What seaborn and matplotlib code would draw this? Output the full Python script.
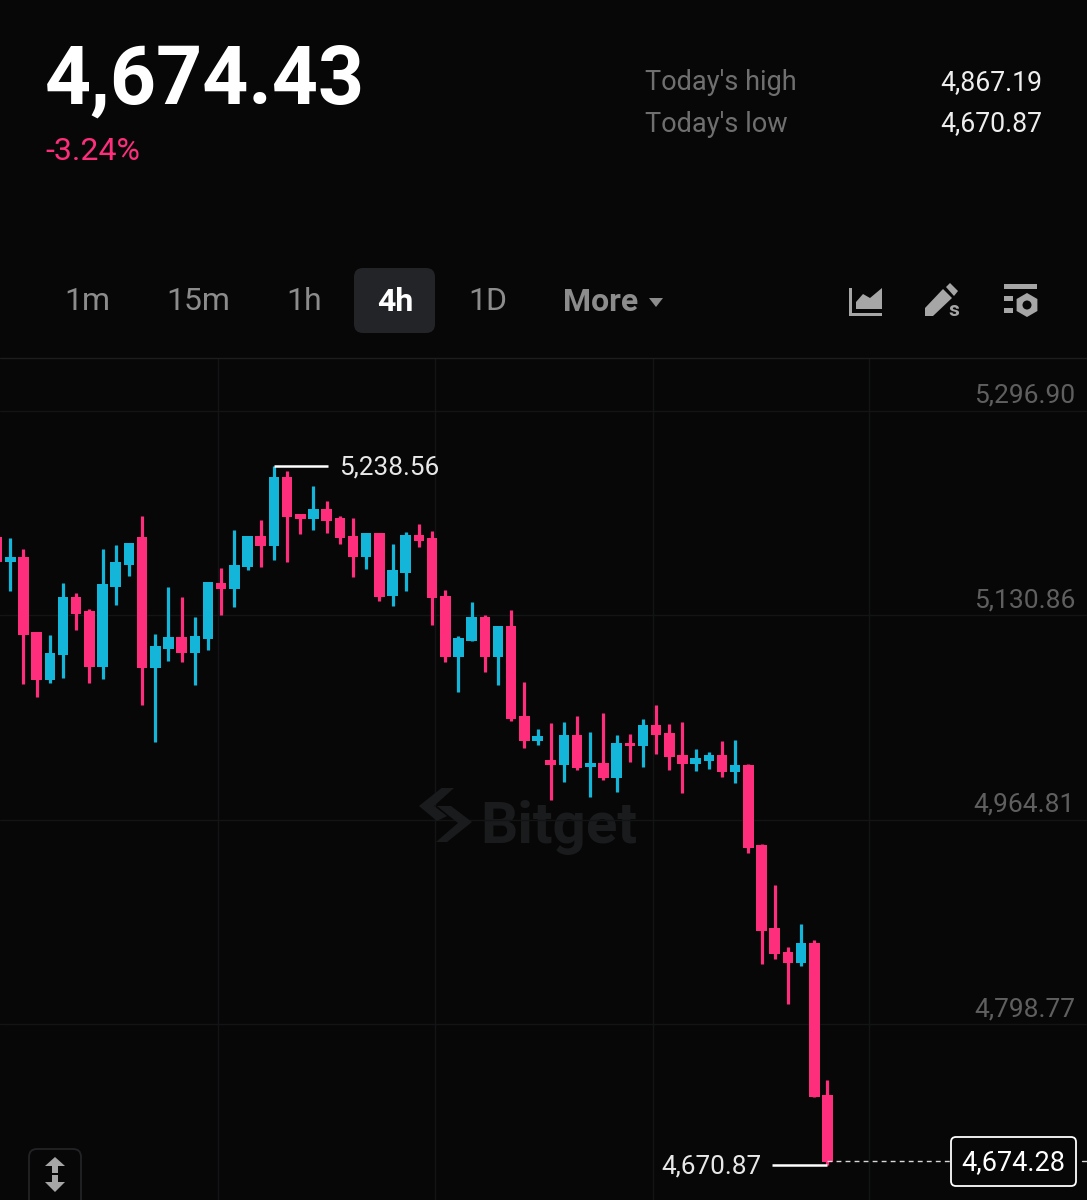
import matplotlib
matplotlib.use("Agg")
import matplotlib.pyplot as plt
import pandas as pd
import seaborn as sns
from matplotlib.patches import Circle, FancyBboxPatch, Polygon, Rectangle, RegularPolygon

BG = "#070707"
PINK = "#fe2e7c"
CYAN = "#13b5d9"
GREY = "#a6a6a6"
MARK = "#1a1b1d"

opens = [5181.1, 5160.8, 5164.8, 5103.7, 5064.7, 5085.0, 5131.8, 5120.4, 5075.5, 5140.4, 5158.3, 5180.8, 5074.4,
         5089.9, 5099.6, 5086.6, 5098.0, 5143.4, 5138.3, 5156.2, 5181.6, 5173.8, 5229.2, 5199.2, 5195.7, 5203.8,
         5196.5, 5181.9, 5164.8, 5183.8, 5132.9, 5151.8, 5182.7, 5179.7, 5132.9, 5083.1, 5096.6, 5116.1, 5083.6,
         5108.5, 5035.4, 5014.9, 4999.4, 4995.9, 5020.0, 4993.8, 4997.5, 4985.4, 5013.8, 5011.4, 5028.1, 5021.9,
         5003.8, 4996.2, 4998.9, 5003.5, 4989.7, 4995.6, 4931.0, 4863.0, 4843.6, 4835.2, 4851.4, 4727.7]
closes = [5160.8, 5164.8, 5101.2, 5064.7, 5086.9, 5131.8, 5118.0, 5075.5, 5142.4, 5160.5, 5175.7, 5074.4, 5092.3,
          5099.6, 5086.6, 5100.4, 5144.0, 5138.3, 5158.1, 5181.6, 5173.8, 5229.2, 5197.3, 5195.7, 5203.8, 5194.0,
          5179.7, 5164.8, 5183.8, 5132.3, 5153.7, 5182.7, 5177.5, 5131.0, 5083.1, 5098.5, 5116.1, 5083.6, 5108.3,
          5032.7, 5014.9, 5019.2, 4995.9, 5020.0, 4993.5, 4997.5, 4985.1, 5013.8, 5011.1, 5028.1, 5019.8, 5001.9,
          4996.2, 5001.1, 5003.5, 4989.7, 4995.6, 4928.5, 4861.2, 4841.9, 4835.2, 4851.1, 4725.8, 4673.2]
highs = [5181.1, 5180.2, 5171.0, 5103.7, 5101.2, 5143.2, 5135.6, 5122.6, 5171.0, 5174.0, 5175.7, 5197.8, 5101.8,
         5139.9, 5132.1, 5115.6, 5144.0, 5155.6, 5186.5, 5181.6, 5194.6, 5238.56, 5234.6, 5199.2, 5222.5, 5210.3,
         5197.8, 5195.9, 5183.8, 5183.8, 5174.8, 5184.6, 5191.1, 5185.7, 5137.5, 5100.7, 5127.7, 5117.4, 5108.3,
         5121.5, 5063.3, 5024.6, 5030.0, 5030.3, 5035.4, 5022.2, 5037.6, 5019.8, 5021.1, 5033.0, 5044.1, 5029.2,
         5030.8, 5008.7, 5005.9, 5015.4, 5015.9, 4996.2, 4931.8, 4898.2, 4848.2, 4866.6, 4853.3, 4739.6]
lows = [5160.8, 5137.2, 5061.4, 5050.6, 5062.0, 5066.0, 5105.3, 5062.5, 5065.2, 5125.6, 5149.1, 5044.1, 5014.6,
        5080.4, 5079.3, 5060.4, 5089.0, 5117.4, 5124.2, 5154.0, 5156.2, 5162.1, 5160.5, 5182.9, 5186.5, 5184.3,
        5175.1, 5148.6, 5154.5, 5129.1, 5125.0, 5136.7, 5172.7, 5109.1, 5079.0, 5054.7, 5096.6, 5071.2, 5060.9,
        5031.6, 5009.4, 5011.9, 4967.2, 4982.1, 4991.3, 4969.4, 4983.5, 4973.5, 4997.8, 4994.3, 5004.6, 4991.6,
        4972.9, 4990.8, 4992.7, 4985.6, 4981.0, 4924.4, 4833.8, 4837.9, 4801.6, 4832.7, 4725.8, 4670.87]

axis_labels = [5296.90, 5130.86, 4964.81, 4798.77]
grid_prices = [5283.1, 5117.06, 4951.0, 4784.97]
grid_candles = [16.76, 33.22, 49.76, 66.15]
timeframes = ["1m", "15m", "1h", "4h", "1D", "More"]

last_price = 4674.28
peak_price = 5238.56
trough_price = 4670.87

# text centres sit about 2px high, this pulls them back down (in price units)
NUDGE = 1.6

sns.set_theme(style="darkgrid", rc={
    "figure.facecolor": BG,
    "axes.facecolor": BG,
    "axes.edgecolor": BG,
    "grid.color": "#131416",
    "grid.linewidth": 1.0,
})
plt.rcParams["font.family"] = ["Roboto", "DejaVu Sans"]

candles = pd.DataFrame({"open": opens, "close": closes, "high": highs, "low": lows})
candles["candle"] = candles.index
candles["side"] = ["up" if c >= o else "down" for o, c in zip(opens, closes)]
candles["body"] = (candles["close"] - candles["open"]).abs()
candles["base"] = candles[["open", "close"]].min(axis=1)
palette = {"up": CYAN, "down": PINK}

# one vertical line per wick, long form so seaborn can group on units
wicks = candles.melt(id_vars=["candle", "side"], value_vars=["high", "low"], value_name="price")

fig = plt.figure(figsize=(10.87, 12), dpi=100)
ax = fig.add_axes([0, 0, 1, 842 / 1200])

# Watermark goes under the candles
ax.text(42.6, 4945.0, "Bitget", color=MARK, fontsize=42, fontweight="bold",
        ha="center", va="center", zorder=0.5)

sns.lineplot(data=wicks, x="candle", y="price", hue="side", units="candle", estimator=None, sort=False,
             palette=palette, linewidth=2.3, solid_capstyle="butt", legend=False, ax=ax, zorder=3)

# Bodies are bars, a line this far off the left edge gets dropped by the renderer.
# bottom has to line up with the rows, so one call per side
for side, group in candles.groupby("side"):
    sns.barplot(data=group, x="candle", y="body", bottom=group["base"].to_numpy(), native_scale=True,
                color=palette[side], saturation=1, width=0.8, errorbar=None, linewidth=0, ax=ax, zorder=4)

ax.set_xlim(0.2185, 82.69)
ax.set_ylim(4642.47, 5326.13)
ax.set_xticks(grid_candles)
ax.set_yticks(grid_prices)
ax.grid(True)
ax.tick_params(left=False, bottom=False, labelleft=False, labelbottom=False)
ax.set_xlabel("")
ax.set_ylabel("")
sns.despine(ax=ax, left=True, bottom=True)

for price in axis_labels:
    ax.text(81.78, price - NUDGE, f"{price:,.2f}", color="#5f5f5f", fontsize=19, ha="right", va="center", zorder=5)

# High and low callouts
peak_idx = highs.index(max(highs))
ax.plot([peak_idx, peak_idx + 4.1], [peak_price, peak_price], color="white", lw=1.8, solid_capstyle="butt", zorder=5)
ax.text(peak_idx + 4.95, peak_price - NUDGE, f"{peak_price:,.2f}", color="#e8e8e8", fontsize=18.8, ha="left", va="center")
last_idx = len(closes) - 1
ax.plot([last_idx - 4.2, last_idx], [trough_price, trough_price], color="white", lw=1.8, solid_capstyle="butt", zorder=5)
ax.text(last_idx - 5.0, trough_price - NUDGE, f"{trough_price:,.2f}", color="#e8e8e8", fontsize=18.8, ha="right", va="center")
ax.plot([last_idx, 72.3], [last_price, last_price], color="#d8d8d8", lw=1, ls=(0, (3.5, 3)), zorder=5)
ax.plot([82.3, 82.69], [last_price, last_price], color="#d8d8d8", lw=1, zorder=5)

# Everything around the chart sits on a pixel-sized overlay
ui = fig.add_axes([0, 0, 1, 1], facecolor="none")
ui.set_xlim(0, 1087)
ui.set_ylim(1200, 0)
ui.grid(False)
ui.axis("off")

ui.plot([0, 1087], [358, 358], color="#1c1d1f", lw=1)

ui.text(45, 82, "4,674.43", color="white", fontsize=58, fontweight="bold", ha="left", va="center")
ui.text(45, 151, "-3.24%", color=PINK, fontsize=23, ha="left", va="center")
for y, name, value in [(83, "Today's high", "4,867.19"), (124, "Today's low", "4,670.87")]:
    ui.text(645, y, name, color="#6f6f6f", fontsize=19.5, ha="left", va="center")
    ui.text(1042, y, value, color="#eeeeee", fontsize=19.2, ha="right", va="center")

ui.add_patch(FancyBboxPatch((354, 268), 81, 65, boxstyle="round,pad=0,rounding_size=9",
                            fc="#232428", ec="none"))
for x, label in zip([87, 198, 304, 395, 488, 601], timeframes):
    active = label == "4h"
    ui.text(x, 302, label, color="white" if active else "#8c8c8c", fontsize=23,
            fontweight="bold" if active or label == "More" else "normal", ha="center", va="center")
ui.add_patch(Polygon([(649, 298), (663, 298), (656, 307)], color="#8c8c8c", lw=0))

# Toolbar icons
ui.add_patch(Polygon([(849, 288), (852, 288), (852, 313), (882, 313), (882, 316), (849, 316)], color=GREY, lw=0))
ui.add_patch(Polygon([(856, 309), (856, 302), (863, 294), (870, 298), (882, 288), (882, 309)], color=GREY, lw=0))
ui.add_patch(Polygon([(925, 316), (925, 308), (943, 289), (952, 298), (933, 316)], color=GREY, lw=0))
ui.add_patch(Polygon([(950, 283), (958, 291), (954, 296), (946, 287)], color=GREY, lw=0))
ui.text(954, 311, "s", color=GREY, fontsize=15, fontweight="bold", ha="center", va="center")
ui.add_patch(Rectangle((1004, 284), 33, 5, color=GREY, lw=0))
ui.add_patch(Rectangle((1004, 296), 9, 5, color=GREY, lw=0))
ui.add_patch(Rectangle((1004, 308), 9, 5, color=GREY, lw=0))
ui.add_patch(RegularPolygon((1027, 305), 6, radius=12, color=GREY, lw=0))
ui.add_patch(Circle((1027, 305), 4.5, color=BG, lw=0))

# Watermark logo
ui.add_patch(Polygon([(441.5, 788), (454, 788), (434, 806), (447, 816), (437, 821), (419, 806)],
                     color=MARK, lw=0, zorder=0.5))
ui.add_patch(Polygon([(437, 806), (451, 806), (472, 822), (447, 842), (436, 842), (458, 823)],
                     color=MARK, lw=0, zorder=0.5))

# Last price box
ui.add_patch(FancyBboxPatch((951, 1137), 125, 49, boxstyle="round,pad=0,rounding_size=5",
                            fc=BG, ec="white", lw=1.3, zorder=6))
ui.text(1013.5, 1163, f"{last_price:,.2f}", color="white", fontsize=19.5, ha="center", va="center", zorder=7)

# Scale toggle, bottom left
ui.add_patch(FancyBboxPatch((29, 1149), 52, 60, boxstyle="round,pad=0,rounding_size=8",
                            fc=BG, ec="#222326", lw=1.3, clip_on=True))
ui.add_patch(Polygon([(55, 1157), (65, 1166), (58, 1166), (58, 1173), (52, 1173), (52, 1166), (45, 1166)],
                     color=GREY, lw=0))
ui.add_patch(Polygon([(55, 1192), (65, 1182), (58, 1182), (58, 1175), (52, 1175), (52, 1182), (45, 1182)],
                     color=GREY, lw=0))

fig.savefig("out.png", dpi=100, facecolor=BG)
